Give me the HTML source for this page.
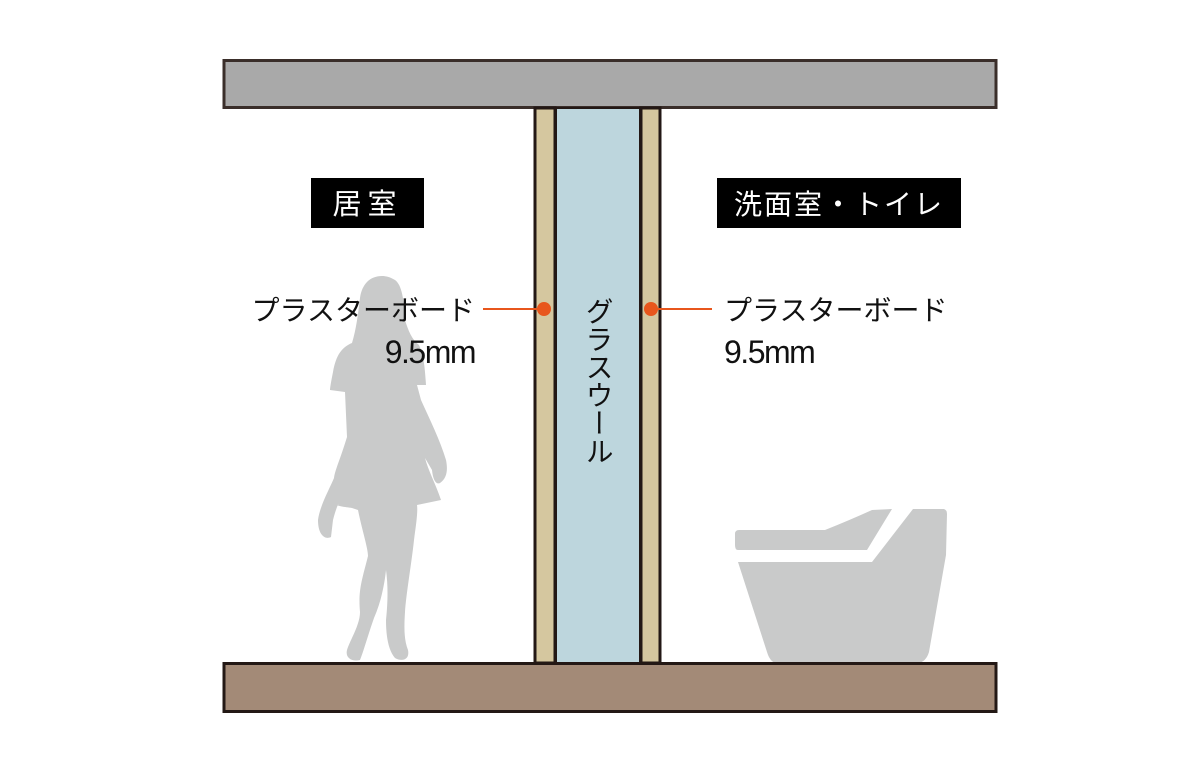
<!DOCTYPE html>
<html><head><meta charset="utf-8"><style>
html,body{margin:0;padding:0;background:#fff;}
svg{display:block;}
text{font-family:"Liberation Sans","Noto Sans CJK JP",sans-serif;}
</style></head><body>
<svg width="1197" height="760" viewBox="0 0 1197 760" xmlns="http://www.w3.org/2000/svg">
<rect x="0" y="0" width="1197" height="760" fill="#fff"/>
<!-- person -->
<path fill="#c9caca" d="M382,276 C370,276 362,284 360,298 C358,315 356,330 352,343 C342,347 336,355 333,372 C331,382 330,388 330,390 L345,392 L347,437 C340,460 335,470 334,478 C330,488 320,505 318,520 C318,535 325,540 331,537 L333,520 C336,508 340,500 338,505 L336,504 C336,506 345,507 352,508 L358,510 C362,530 368,548 368,556 C362,580 358,590 360,612 C360,625 350,640 347,650 C345,658 352,662 360,660 C364,650 368,635 374,618 C382,600 385,580 386,570 C388,585 388,600 386,620 C386,635 388,650 395,658 C402,662 410,660 408,650 C404,640 404,628 405,612 C406,595 412,560 414,540 C416,525 418,512 417,505 L441,500 C436,485 428,470 425,458 L432,470 C433,480 436,485 440,483 C447,478 448,470 446,460 C440,440 430,420 421,400 L417,385 L426,385 C425,370 424,355 419,345 C412,340 408,330 405,320 C404,300 402,285 395,280 C390,277 386,276 382,276 Z"/>
<!-- toilet -->
<path fill="#c9caca" d="M739,530 L825,530 Q850,520 872,510 L892,509 L867,550 L738,550 Q735,550 735,545 L735,534 Q735,530 739,530 Z"/>
<path fill="#c9caca" d="M913,509 L944,509 Q947,510 947,514 L946,555 L929,652 Q926,662 918,663 L776,663 Q770,662 767,652 L738,562 L872,562 Z"/>
<!-- top beam -->
<rect x="224" y="60.5" width="772" height="47" fill="#a9a9a9" stroke="#3a2e2a" stroke-width="3"/>
<!-- wall -->
<rect x="535" y="108" width="20" height="555" fill="#d5c79f" stroke="#231815" stroke-width="3"/>
<rect x="556" y="108" width="84" height="555" fill="#bdd6dd" stroke="#231815" stroke-width="2"/>
<rect x="641" y="108" width="19" height="555" fill="#d5c79f" stroke="#231815" stroke-width="3"/>
<!-- bottom beam -->
<rect x="224" y="663.5" width="772" height="48" fill="#a38a77" stroke="#231815" stroke-width="3"/>
<!-- labels -->
<rect x="311" y="178" width="113" height="50" fill="#000"/>
<text x="367.5" y="214" font-size="29" fill="#fff" text-anchor="middle" letter-spacing="6">居室</text>
<rect x="717" y="178" width="244" height="50" fill="#000"/>
<text x="839" y="214" font-size="28" fill="#fff" text-anchor="middle" letter-spacing="2">洗面室・トイレ</text>
<!-- callouts -->
<line x1="483" y1="309" x2="545" y2="309" stroke="#e8561c" stroke-width="2"/>
<circle cx="544" cy="309" r="7" fill="#e8561c"/>
<line x1="651" y1="309" x2="712" y2="309" stroke="#e8561c" stroke-width="2"/>
<circle cx="651" cy="309" r="7" fill="#e8561c"/>
<text x="475" y="320" font-size="28" fill="#111" text-anchor="end">プラスターボード</text>
<text x="475" y="363" font-size="32" fill="#111" text-anchor="end" letter-spacing="-1.5">9.5mm</text>
<text x="724" y="320" font-size="28" fill="#111">プラスターボード</text>
<text x="724" y="363" font-size="32" fill="#111" letter-spacing="-1.5">9.5mm</text>
<text x="598" y="297" font-size="28" fill="#111" style="writing-mode:vertical-rl;" writing-mode="tb">グラスウール</text>
</svg>
</body></html>
